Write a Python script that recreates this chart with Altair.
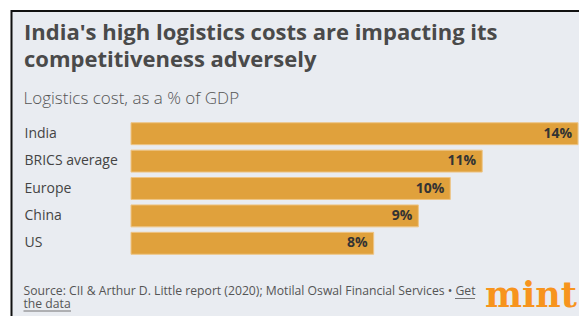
import altair as alt
import pandas as pd

categories = ["India", "BRICS average", "Europe", "China", "US"]
values = [14, 11, 10, 9, 7.6]
value_labels = ["14%", "11%", "10%", "9%", "8%"]

title_lines = ["India's high logistics costs are impacting its", "competitiveness adversely"]
subtitle = "Logistics cost, as a % of GDP"
source_lines = ["Source: CII & Arthur D. Little report (2020); Motilal Oswal Financial Services \u2022 Get", "the data"]
logo = "mint"

df = pd.DataFrame({"country": categories, "value": values, "label": value_labels})
one = pd.DataFrame({"k": [0]})

FONT = "Open Sans"

bg = alt.Chart(one).mark_rect(fill="#E9ECF1", stroke="#111111", strokeWidth=2).encode(
    x=alt.value(-119.5), x2=alt.value(470), y=alt.value(-109), y2=alt.value(215)
)

title = alt.Chart(one).mark_text(
    text=title_lines, align="left", baseline="alphabetic", font=FONT, fontWeight="bold",
    fontSize=22, lineHeight=27, color="#4a4a4a"
).encode(x=alt.value(-107), y=alt.value(-80.5))

sub = alt.Chart(one).mark_text(
    text=subtitle, align="left", baseline="alphabetic", font=FONT, fontWeight=300,
    fontSize=17, color="#555555"
).encode(x=alt.value(-107.5), y=alt.value(-16))

src = alt.Chart(one).mark_text(
    text=source_lines, align="left", baseline="alphabetic", font=FONT,
    fontSize=12.2, lineHeight=13, color="#555555"
).encode(x=alt.value(-107.5), y=alt.value(175))

ul1 = alt.Chart(one).mark_rule(color="#555555", strokeWidth=0.8).encode(
    x=alt.value(324), x2=alt.value(344), y=alt.value(178.5)
)
ul2 = alt.Chart(one).mark_rule(color="#555555", strokeWidth=0.8).encode(
    x=alt.value(-107.5), x2=alt.value(-60), y=alt.value(191)
)

mint = alt.Chart(one).mark_text(
    text=logo, align="left", baseline="alphabetic", font="DejaVu Serif", fontWeight="bold",
    fontSize=35, color="#F7941D"
).encode(x=alt.value(354), y=alt.value(186.5))

base = alt.Chart(df)
y_enc = alt.Y(
    "country:N", sort=categories, title=None,
    scale=alt.Scale(paddingInner=0.2, paddingOuter=0.1),
    axis=alt.Axis(domain=False, ticks=False, labelAlign="left", labelPadding=107,
                  labelFontSize=14, labelFont=FONT, labelColor="#444444", zindex=2),
)
x_enc = alt.X("value:Q", title=None, scale=alt.Scale(domain=[0, 14], nice=False), axis=None)

bars = base.mark_bar(color="#E0A13C", stroke="#EEC585", strokeWidth=1).encode(x=x_enc, y=y_enc)
texts = base.mark_text(align="right", baseline="middle", dx=-6, font=FONT, fontWeight="bold",
                       fontSize=14, color="#333333").encode(x=x_enc, y=y_enc, text="label:N")

chart = alt.layer(bg, title, sub, src, ul1, ul2, mint, bars, texts).properties(
    width=447, height=137,
    padding={"left": 123, "top": 112, "right": 1, "bottom": 59},
    autosize=alt.AutoSizeParams(type="none"),
    background="white",
).configure_view(stroke=None)

chart.save("out.html", embed_options={"renderer": "svg", "actions": False})
